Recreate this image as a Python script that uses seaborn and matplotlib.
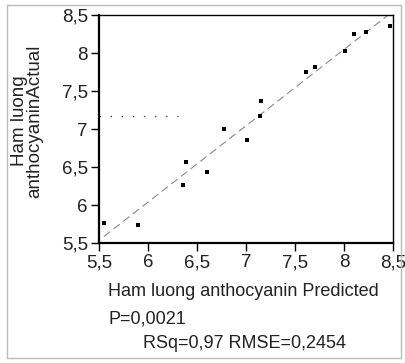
import matplotlib
matplotlib.use("Agg")
import matplotlib.pyplot as plt
import seaborn as sns
import numpy as np
import pandas as pd
from matplotlib.ticker import FuncFormatter
from matplotlib.patches import Rectangle

predicted = [5.55, 5.90, 6.36, 6.39, 6.60, 6.78, 7.01, 7.14, 7.15, 7.61, 7.70, 8.01, 8.10, 8.22, 8.47]
actual = [5.76, 5.74, 6.26, 6.56, 6.44, 7.00, 6.86, 7.17, 7.37, 7.75, 7.81, 8.02, 8.25, 8.28, 8.36]
ticks = [5.5, 6, 6.5, 7, 7.5, 8, 8.5]
xlabel = "Ham luong anthocyanin Predicted"
ylabel = "Ham luong\nanthocyaninActual"
stat1 = "P=0,0021"
stat2 = "RSq=0,97 RMSE=0,2454"

sns.set_style("white")
plt.rcParams['font.family'] = ['Liberation Sans', 'DejaVu Sans']

df = pd.DataFrame({"pred": predicted, "act": actual})

fig = plt.figure(figsize=(4.05, 3.63), dpi=100)
ax = fig.add_axes([99/405, 1-243/363, (393-99)/405, (243-15)/363])
ax.set_xlim(5.5, 8.5)
ax.set_ylim(5.5, 8.5)

sns.regplot(data=df, x="pred", y="act", ax=ax, scatter=False, ci=None,
            truncate=True,
            line_kws=dict(color="#888888", lw=0.8, ls=(0, (7, 4))))
ax.axhline(np.mean(actual), xmin=0, xmax=0.27, color="#444444", lw=1.0, ls=(0, (1, 7)))
sns.scatterplot(data=df, x="pred", y="act", ax=ax, marker="s", s=11,
                color="black", edgecolor="black", linewidth=0, zorder=5)

ax.set_xlim(5.5, 8.5)
ax.set_ylim(5.5, 8.5)
ax.set_xticks(ticks)
ax.set_yticks(ticks)
fmt = FuncFormatter(lambda v, p: (f"{v:g}").replace(".", ","))
ax.xaxis.set_major_formatter(fmt)
ax.yaxis.set_major_formatter(fmt)
ax.tick_params(axis="both", which="major", direction="out", length=6, width=1.0,
               color="black", labelsize=13.5, labelcolor="#222222", pad=2,
               bottom=True, left=True)
for s in ["left", "bottom"]:
    ax.spines[s].set_linewidth(1.6)
    ax.spines[s].set_color("black")
for s in ["top", "right"]:
    ax.spines[s].set_linewidth(1.0)
    ax.spines[s].set_color("black")

ax.set_xlabel("")
ax.set_ylabel("")
fig.text(108/405, 1-292/363, xlabel, fontsize=13, color="#222222", va="center")
fig.text(27.5/405, 1-121/363, ylabel, rotation=90, ha="center", va="center",
         fontsize=13.5, color="#222222", linespacing=0.85)
fig.text(108/405, 1-319/363, stat1, fontsize=13, color="#222222", va="center")
fig.text(143/405, 1-343/363, stat2, fontsize=13, color="#222222", va="center")

fig.patches.append(Rectangle((7/405, 5/363), (401-7)/405, (358-5)/363,
                             transform=fig.transFigure, fill=False,
                             edgecolor="#bbbbbb", lw=1.0))

fig.savefig("out.png", dpi=100)
